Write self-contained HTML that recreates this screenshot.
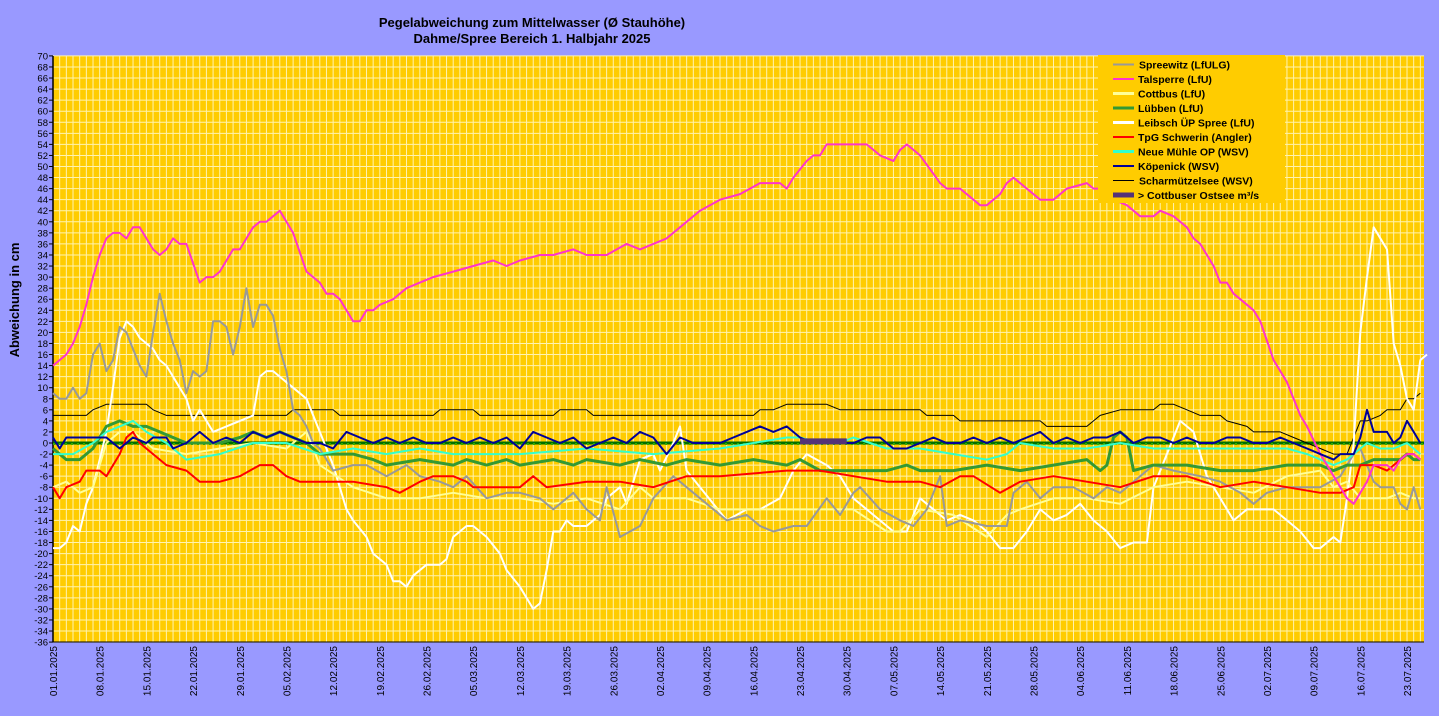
<!DOCTYPE html>
<html><head><meta charset="utf-8"><style>
body{margin:0;background:#9999FF;width:1439px;height:716px;overflow:hidden;font-family:"Liberation Sans",Arial,sans-serif}
</style></head><body>
<svg id="s" width="1439" height="716" xmlns="http://www.w3.org/2000/svg" style="position:absolute;left:0;top:0">
<rect width="1439" height="716" fill="#9999FF"/>
<text x="532" y="27" font-size="13" font-weight="bold" text-anchor="middle" font-family="Liberation Sans, sans-serif">Pegelabweichung zum Mittelwasser (Ø Stauhöhe)</text>
<text x="532" y="43" font-size="13" font-weight="bold" text-anchor="middle" font-family="Liberation Sans, sans-serif">Dahme/Spree Bereich 1. Halbjahr 2025</text>
<text transform="translate(19,300) rotate(-90)" font-size="13" font-weight="bold" text-anchor="middle" font-family="Liberation Sans, sans-serif">Abweichung  in  cm</text>
<g id="g"></g>
</svg>
<script>
const X0=53,DX=6.67,Y0=443,DY=5.53,L=53,R=1424,T=56,B=642;
const X=d=>X0+d*DX, Y=v=>Y0-v*DY;
let h='';
h+=`<rect x="${L}" y="${T}" width="${R-L}" height="${B-T}" fill="#FFCC00"/>`;
for(let d=0;X(d)<=R;d++) h+=`<line x1="${X(d)}" y1="${T}" x2="${X(d)}" y2="${B}" stroke="#FFF3B0" stroke-width="1"/>`;
for(let v=-36;v<=70;v+=2){h+=`<line x1="${L}" y1="${Y(v)}" x2="${R}" y2="${Y(v)}" stroke="#FFF3B0" stroke-width="1"/>`;
 h+=`<line x1="${L-4}" y1="${Y(v)}" x2="${L}" y2="${Y(v)}" stroke="#000"/>`;
 h+=`<text x="${L-5}" y="${Y(v)+3.5}" font-size="9.5" text-anchor="end" font-family="Liberation Sans, sans-serif">${v}</text>`;}
h+=`<line x1="${L}" y1="${T}" x2="${L}" y2="${B}" stroke="#000" stroke-width="1.5"/>`;
h+=`<line x1="${L}" y1="${B}" x2="${R}" y2="${B}" stroke="#000"/>`;
const labs=['01.01','08.01','15.01','22.01','29.01','05.02','12.02','19.02','26.02','05.03','12.03','19.03','26.03','02.04','09.04','16.04','23.04','30.04','07.05','14.05','21.05','28.05','04.06','11.06','18.06','25.06','02.07','09.07','16.07','23.07'];
labs.forEach((l,i)=>{const x=X(i*7);h+=`<text transform="translate(${x+4},${B+4}) rotate(-90)" font-size="10" text-anchor="end" font-family="Liberation Sans, sans-serif">${l}.2025</text>`;});
h+=`<line x1="${L}" y1="${Y0}" x2="${R}" y2="${Y0}" stroke="#007000" stroke-width="3"/>`;
h+=`<line x1="${L}" y1="${Y0+1}" x2="${R}" y2="${Y0+1}" stroke="#33aa00" stroke-width="2" stroke-dasharray="2,4"/>`;
function S(pts,col,w){let a=[];for(let i=0;i<pts.length;i+=2)a.push(X(pts[i]).toFixed(1)+','+Y(pts[i+1]).toFixed(1));h+=`<polyline points="${a.join(' ')}" fill="none" stroke="${col}" stroke-width="${w}" stroke-linejoin="round"/>`;}
S([0,5,5,5,6,6,8,7,14,7,15,6,17,5,35,5,36,6,42,6,43,5,57,5,58,6,63,6,64,5,75,5,76,6,80,6,81,5,105,5,106,6,108,6,110,7,116,7,118,6,130,6,131,5,135,5,136,4,148,4,149,3,155,3,157,5,160,6,165,6,166,7,168,7,170,6,172,5,175,5,176,4,179,3,180,2,184,2,186,1,188,0,190,-1,192,-2,194,-2,196,4,197,4,199,5,200,6,202,6,203,8,204,8,205,9],'#000',1);
S([0,-19,1,-19,2,-18,3,-15,4,-16,5,-11,6,-8,8,2,9,10,10,19,11,22,12,21,13,19,15,17,16,15,17,14,19,10,20,8,21,4,22,6,24,2,26,3,28,4,30,5,31,12,32,13,33,13,35,11,37,9,38,8,40,2,42,-4,44,-12,45,-14,47,-17,48,-20,49,-21,50,-22,51,-25,52,-25,53,-26,54,-24,56,-22,58,-22,59,-21,60,-17,62,-15,63,-15,65,-17,67,-20,68,-23,70,-26,72,-30,73,-29,74,-23,75,-16,76,-16,77,-14,78,-15,80,-15,82,-13,83,-10,85,-8,86,-11,88,-3,90,-2,91,-5,93,0,94,3,95,-5,97,-8,99,-11,101,-14,104,-12,106,-12,109,-10,111,-5,113,-2,116,-4,118,-6,120,-10,122,-12,126,-16,128,-16,130,-10,132,-12,134,-14,136,-13,138,-14,140,-16,142,-19,144,-19,146,-16,148,-12,150,-14,152,-13,154,-11,156,-14,158,-16,160,-19,162,-18,164,-18,165,-8,167,-2,169,4,171,2,173,-6,175,-10,177,-14,179,-12,181,-12,183,-12,185,-14,187,-16,189,-19,190,-19,192,-17,193,-18,194,-10,195,0,196,20,197,30,198,39,200,35,201,18,202,14,203,8,204,6,205,15,206,16],'#FFFFFF',2);
S([0,-8,2,-7,4,-9,6,-8,8,0,10,2,12,2,15,-1,20,-2,25,-1,30,0,35,-1,38,2,40,-4,45,-8,50,-10,55,-10,60,-9,65,-10,70,-10,75,-11,80,-10,85,-12,88,-8,90,-10,95,-10,100,-12,105,-12,110,-12,115,-12,120,-12,125,-16,127,-16,130,-12,135,-13,140,-17,143,-13,145,-12,150,-10,155,-10,160,-11,165,-8,170,-7,175,-8,180,-9,185,-6,190,-5,192,-8,194,-7,196,-10,198,-10,200,-10,202,-9,204,-10,205,-10],'#FFFF99',2);
S([0,9,1,8,2,8,3,10,4,8,5,9,6,16,7,18,8,13,9,15,10,21,11,20,12,17,13,14,14,12,15,20,16,27,17,22,18,18,19,15,20,9,21,13,22,12,23,13,24,22,25,22,26,21,27,16,28,21,29,28,30,21,31,25,32,25,33,23,34,17,35,13,36,6,37,5,38,3,39,0,40,-1,42,-5,45,-4,47,-4,50,-6,53,-4,55,-6,58,-7,60,-8,62,-6,65,-10,68,-9,70,-9,73,-10,75,-12,78,-9,80,-12,82,-14,83,-8,85,-17,88,-15,90,-10,93,-6,95,-8,98,-11,101,-14,104,-13,106,-15,108,-16,111,-15,113,-15,116,-10,118,-13,120,-9,121,-8,124,-12,127,-14,129,-15,131,-12,133,-6,134,-15,136,-14,140,-15,143,-15,144,-9,146,-7,148,-10,150,-8,153,-8,156,-10,158,-8,160,-9,163,-6,165,-4,168,-5,172,-6,175,-7,178,-9,180,-11,182,-9,185,-8,188,-8,190,-8,193,-6,195,-2,196,-1,197,-4,198,-7,199,-8,201,-8,202,-11,203,-12,204,-8,205,-12],'#999999',2);
S([0,-1,2,-3,4,-3,6,-1,8,3,10,4,12,3,14,3,16,2,18,1,20,0,25,0,28,1,30,2,32,1,34,2,36,1,38,0,40,-2,45,-2,48,-3,50,-4,55,-3,60,-4,62,-3,65,-4,68,-3,70,-4,75,-3,78,-4,80,-3,85,-4,88,-3,92,-4,95,-3,100,-4,105,-3,110,-4,112,-3,115,-5,120,-5,125,-5,128,-4,130,-5,135,-5,140,-4,145,-5,150,-4,155,-3,157,-5,158,-4,159,1,160,2,161,1,162,-5,165,-4,170,-4,175,-5,180,-5,185,-4,190,-4,192,-5,194,-4,196,-4,198,-3,200,-3,202,-3,203,-2,204,-3,205,-3],'#339933',3);
S([0,-2,3,-2,6,0,8,2,10,3,12,4,14,2,17,0,20,-3,25,-2,30,0,35,0,40,-2,45,-1,50,-2,55,-1,60,-2,70,-2,80,-1,90,-2,100,-1,105,0,110,1,112,1,115,0,118,0,120,1,125,-1,130,-1,135,-2,140,-3,143,-2,145,0,150,-1,155,-1,160,0,165,-1,170,-1,175,-1,180,-1,185,-1,188,-2,190,-3,192,-4,194,-3,196,-1,197,0,199,-1,201,-1,203,0,205,-2],'#33FFCC',2);
S([0,-8,1,-10,2,-8,4,-7,5,-5,7,-5,8,-6,10,-2,11,1,12,2,13,0,15,-2,17,-4,20,-5,22,-7,25,-7,28,-6,31,-4,33,-4,35,-6,37,-7,40,-7,45,-7,50,-8,52,-9,55,-7,57,-6,60,-6,62,-7,63,-8,70,-8,72,-6,74,-8,80,-7,85,-7,90,-8,95,-6,100,-6,110,-5,115,-5,120,-6,125,-7,130,-7,133,-8,136,-6,138,-6,142,-9,145,-7,150,-6,155,-7,160,-8,165,-6,170,-6,175,-8,180,-7,185,-8,190,-9,193,-9,195,-8,196,-4,198,-4,200,-5,201,-4,203,-2,204,-2,205,-3],'#FF0000',2);
S([0,14,2,16,3,18,4,21,5,25,6,30,7,34,8,37,9,38,10,38,11,37,12,39,13,39,15,35,16,34,17,35,18,37,19,36,20,36,22,29,23,30,24,30,25,31,27,35,28,35,30,39,31,40,32,40,34,42,36,38,38,31,40,29,41,27,42,27,43,26,45,22,46,22,47,24,48,24,49,25,51,26,53,28,55,29,57,30,60,31,63,32,66,33,68,32,70,33,73,34,75,34,78,35,80,34,83,34,86,36,88,35,90,36,92,37,95,40,97,42,100,44,103,45,106,47,109,47,110,46,111,48,113,51,114,52,115,52,116,54,122,54,124,52,126,51,127,53,128,54,130,52,133,47,134,46,136,46,139,43,140,43,142,45,143,47,144,48,146,46,148,44,150,44,152,46,155,47,156,46,158,46,159,44,161,43,163,41,165,41,166,42,168,41,170,39,171,37,172,36,174,32,175,29,176,29,177,27,178,26,180,24,181,22,183,15,185,11,186,8,187,5,188,3,190,-2,191,-4,193,-8,194,-10,195,-11,196,-9,197,-7,198,-4,200,-4,201,-5,202,-3,203,-2,204,-2,205,-3],'#FF33CC',2);
S([0,1,1,-1,2,1,4,1,6,1,8,1,10,-1,12,1,14,0,15,1,17,1,18,-1,20,0,22,2,24,0,26,1,28,0,30,2,32,1,34,2,36,1,38,0,40,0,42,-1,44,2,46,1,48,0,50,1,52,0,54,1,56,0,58,0,60,1,62,0,64,1,66,0,68,1,70,-1,72,2,74,1,76,0,78,1,80,-1,82,0,84,1,86,0,88,2,90,1,92,-2,94,1,96,0,98,0,100,0,102,1,104,2,106,3,108,2,110,3,112,1,114,0,116,0,118,0,120,0,122,1,124,1,126,-1,128,-1,130,0,132,1,134,0,136,0,138,1,140,0,142,1,144,0,146,1,148,2,150,0,152,1,154,0,156,1,158,1,160,2,162,0,164,1,166,1,168,0,170,1,172,0,174,0,176,1,178,1,180,0,182,0,184,1,186,0,188,-1,190,-2,192,-3,193,-2,195,-2,196,1,197,6,198,2,200,2,201,0,202,1,203,4,204,2,205,0],'#000099',2);
h+=`<line x1="${X(112)}" y1="${Y(0.3)}" x2="${X(119)}" y2="${Y(0.3)}" stroke="#553377" stroke-width="6"/>`;
h+=`<rect x="1098" y="55" width="187" height="148" fill="#FFCC00"/>`;
const lg=[['Spreewitz (LfULG)','#999999',2],['Talsperre (LfU)','#FF33CC',2],['Cottbus (LfU)','#FFFF99',3],['Lübben (LfU)','#339933',3],['Leibsch ÜP Spree (LfU)','#FFFFFF',3],['TpG Schwerin (Angler)','#FF0000',2],['Neue Mühle OP (WSV)','#33FFCC',3],['Köpenick (WSV)','#000099',2],['Scharmützelsee (WSV)','#000',1],['> Cottbuser Ostsee m³/s','#553377',5]];
lg.forEach((e,i)=>{const y=64.5+i*14.5;h+=`<line x1="1113" y1="${y}" x2="1134" y2="${y}" stroke="${e[1]}" stroke-width="${e[2]}"/>`;
h+=`<text x="${i==0||i==8?1139:1138}" y="${y+4}" font-size="10.5" font-weight="bold" font-family="Liberation Sans, sans-serif">${e[0]}</text>`;});
document.getElementById('g').innerHTML=h;
</script>
</body></html>
